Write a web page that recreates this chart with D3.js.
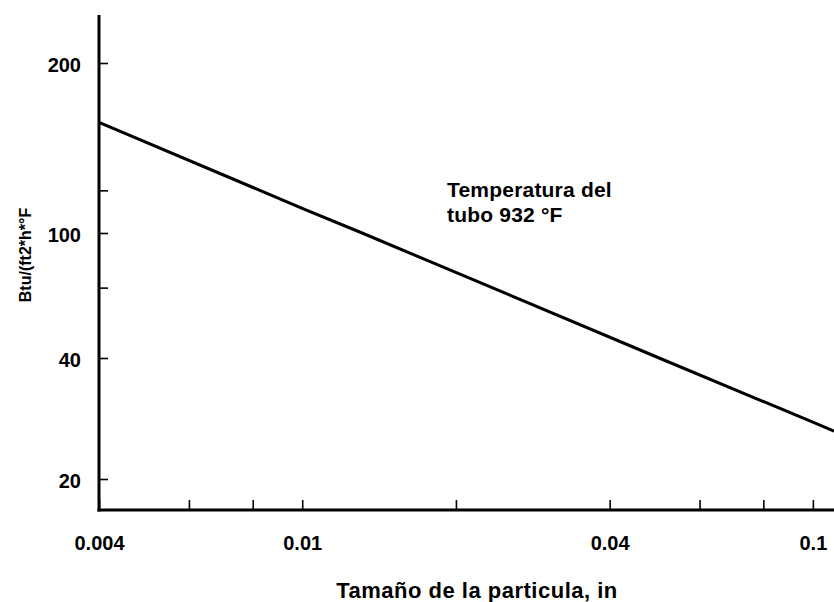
<!DOCTYPE html>
<html>
<head>
<meta charset="utf-8">
<script src="https://cdn.jsdelivr.net/npm/d3@7"></script>
<style>
  html, body { margin: 0; padding: 0; background: #fff; }
  svg { display: block; }
  text { font-family: "Liberation Sans", Arial, sans-serif; font-weight: bold; fill: #000; }
</style>
</head>
<body>
<svg id="chart" width="834" height="602"></svg>
<script>
// ---- data ----
const particleSize = [0.004, 0.01, 0.0131, 0.05, 0.1, 0.11];   // in
const heatCoef     = [157, 110.6, 100, 40, 27.7, 26.3];         // Btu/(ft2*h*°F)

const xMajorTicks = [0.004, 0.01, 0.04, 0.1];
const xMinorTicks = [0.006, 0.008, 0.02, 0.06, 0.08];
const xTickLabels = ["0.004", "0.01", "0.04", "0.1"];

const yMajorTicks = [20, 40, 100, 200];
const yMinorTicks = [67, 119];
const yTickLabels = ["20", "40", "100", "200"];

const xTitle = "Tamaño de la particula, in";
const yTitle = "Btu/(ft2*h*°F";
const noteLines = ["Temperatura del", "tubo 932 °F"];

// ---- layout ----
const W = 834, H = 602;
const axisX = 99, axisY = 510, axisTop = 15;

const svg = d3.select("#chart");

const x = d3.scaleLog().domain([0.004, 0.11]).range([axisX, W]);
// the printed y axis is not evenly logarithmic: piecewise log scale through the labelled ticks
const y = d3.scaleLog().domain([20, 40, 100, 200]).range([479, 358, 233, 63]);

// axis lines
svg.append("line")
  .attr("x1", axisX).attr("x2", axisX)
  .attr("y1", axisTop).attr("y2", axisY + 1.5)
  .attr("stroke", "#000").attr("stroke-width", 3);
svg.append("line")
  .attr("x1", axisX - 1.5).attr("x2", W)
  .attr("y1", axisY).attr("y2", axisY)
  .attr("stroke", "#000").attr("stroke-width", 3);

// x axis
const xLabelMap = new Map(xMajorTicks.map((v, i) => [v, xTickLabels[i]]));
const xAxis = d3.axisBottom(x)
  .tickValues(xMajorTicks.concat(xMinorTicks))
  .tickSizeInner(-10).tickSizeOuter(0)
  .tickPadding(26)
  .tickFormat(d => xLabelMap.get(d) || "");
const gx = svg.append("g").attr("transform", `translate(0,${axisY})`).call(xAxis);
gx.select(".domain").remove();
gx.selectAll(".tick line").attr("stroke", "#000").attr("stroke-width", 1.6);
gx.selectAll(".tick text")
  .attr("font-size", 20).attr("font-family", null).attr("fill", "#000");

// y axis
const yLabelMap = new Map(yMajorTicks.map((v, i) => [v, yTickLabels[i]]));
const yAxis = d3.axisLeft(y)
  .tickValues(yMajorTicks.concat(yMinorTicks))
  .tickSizeInner(-9).tickSizeOuter(0)
  .tickPadding(18)
  .tickFormat(d => yLabelMap.get(d) || "");
const gy = svg.append("g").attr("transform", `translate(${axisX},0)`).call(yAxis);
gy.select(".domain").remove();
gy.selectAll(".tick line").attr("stroke", "#000").attr("stroke-width", 1.6);
gy.selectAll(".tick text")
  .attr("font-size", 20).attr("font-family", null).attr("fill", "#000")
  .attr("dy", "0.42em");

// data line
const pts = particleSize.map((v, i) => [v, heatCoef[i]]);
svg.append("path")
  .datum(pts)
  .attr("fill", "none")
  .attr("stroke", "#000")
  .attr("stroke-width", 3)
  .attr("d", d3.line().x(d => x(d[0])).y(d => y(d[1])));

// annotation
const note = svg.append("text").attr("x", 447).attr("y", 197)
  .attr("font-size", 21).attr("letter-spacing", 0.2);
noteLines.forEach((t, i) => {
  note.append("tspan").attr("x", 447).attr("dy", i === 0 ? 0 : 25).text(t);
});

// axis titles
svg.append("text")
  .attr("x", 477).attr("y", 598)
  .attr("text-anchor", "middle")
  .attr("font-size", 22).attr("letter-spacing", 0.5)
  .text(xTitle);

svg.append("text")
  .attr("transform", "translate(31,255) rotate(-90)")
  .attr("text-anchor", "middle")
  .attr("font-size", 16)
  .text(yTitle);
</script>
</body>
</html>
